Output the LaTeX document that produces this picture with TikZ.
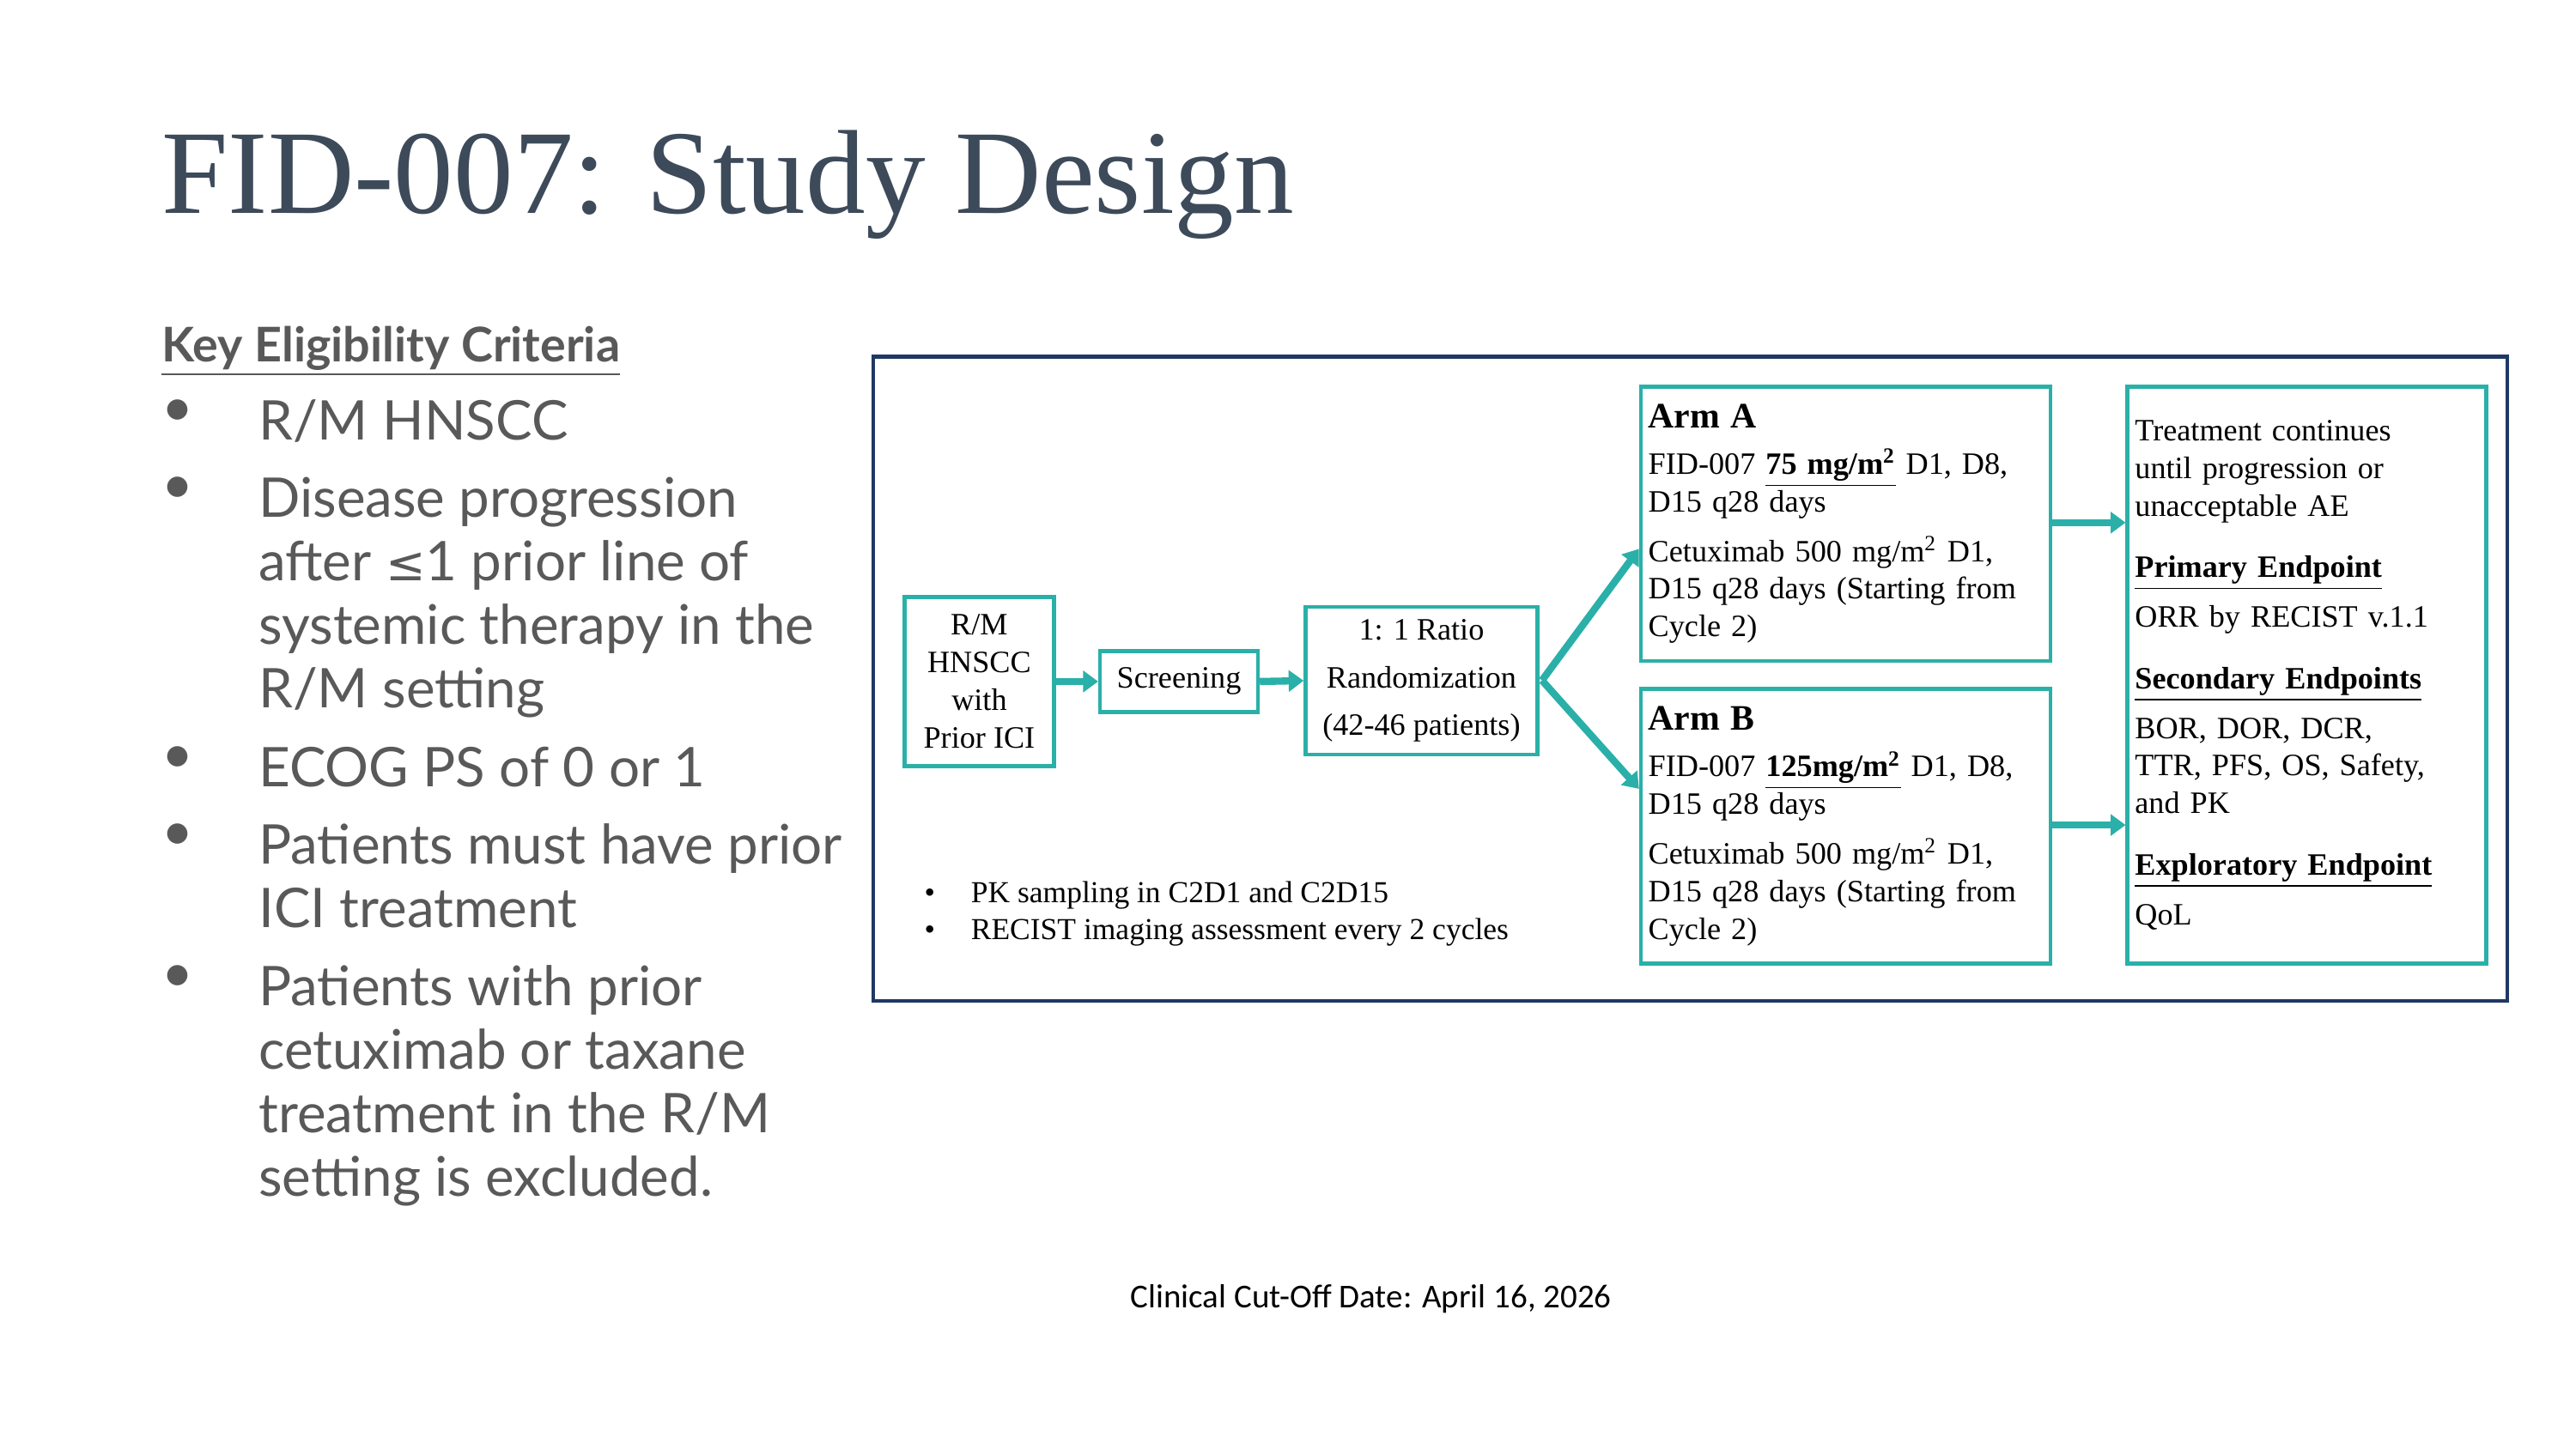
\documentclass[tikz,border=0pt]{standalone}
\usepackage{fontspec}
\setmainfont{Liberation Serif}
\newfontfamily\leftfont{Lato}
\newfontfamily\symfont{DejaVu Sans}
\newfontfamily\cutfont{Carlito}
\usetikzlibrary{positioning,arrows.meta}
\definecolor{teal}{HTML}{2AB0A8}
\definecolor{navy}{HTML}{1F3864}
\definecolor{slate}{HTML}{3D4A5A}
\definecolor{greytext}{HTML}{595959}
\tikzset{
  box/.style={draw=teal, line width=1.3pt, inner sep=2.5pt, font=\fontsize{10.4}{12.6}\selectfont},
  flow/.style={teal, line width=2.4pt, -{Triangle[length=5pt,width=7pt]}},
  crit/.style={anchor=north west, align=left, inner sep=0pt, text=greytext,
    font=\leftfont\fontsize{18.3}{21.3}\selectfont},
}
\begin{document}
\begin{tikzpicture}[x=0.01933cm, y=-0.01933cm]
	\useasboundingbox (0,0) rectangle (1567,881.5);
	% title and criteria
	\node[anchor=base west, inner sep=0pt, text=slate, font=\fontsize{40}{44}\selectfont] (title) at (98,130) {FID-007: Study Design};
	\node[anchor=base west, inner sep=0pt, text=greytext, font=\leftfont\bfseries\fontsize{16}{19}\selectfont] (keyhead) at (98,220) {\underline{Key Eligibility Criteria}};
	\foreach \y/\t [count=\i] in {243/{R/M HNSCC},
		290/{Disease progression\\after {\symfont\fontsize{16}{21.3}\selectfont≤}1 prior line of\\systemic therapy in the\\R/M setting},
		454/{ECOG PS of 0 or 1},
		501/{Patients must have prior\\ICI treatment},
		587/{Patients with prior\\cetuximab or taxane\\treatment in the R/M\\setting is excluded.}}{
		\node[crit] (dot\i) at (98,\y) {•};
		\node[crit] (crit\i) at (157,\y) {\t};
	}

	% study frame
	\draw[navy, line width=1.2pt] (531,217) rectangle (1525,609);
	\node[box, anchor=north west, minimum width=91*0.01933cm, minimum height=103*0.01933cm, align=center] (rm) at (549,362) {R/M\\HNSCC\\with\\Prior ICI};
	\node[box, anchor=north west, minimum width=96*0.01933cm, minimum height=37*0.01933cm] (scr) at (668,395) {Screening};
	\node[box, anchor=north west, minimum width=141*0.01933cm, minimum height=90*0.01933cm, align=center, font=\fontsize{10.4}{16}\selectfont] (rand) at (793,368) {1: 1 Ratio\\Randomization\\(42-46 patients)};
	\node[box, anchor=north west, minimum width=245*0.01933cm, minimum height=167*0.01933cm, text width=240*0.01933cm, align=left] (armA) at (997,234) {{\fontsize{12}{14}\selectfont\bfseries Arm A}\\[3pt]
		FID-007 \textbf{\underline{75 mg/m\textsuperscript{2}}} D1, D8,\\D15 q28 days\\[4pt]
		Cetuximab 500 mg/m\textsuperscript{2} D1,\\D15 q28 days (Starting from\\Cycle 2)};
	\node[box, anchor=north west, minimum width=245*0.01933cm, minimum height=167*0.01933cm, text width=240*0.01933cm, align=left] (armB) at (997,418) {{\fontsize{12}{14}\selectfont\bfseries Arm B}\\[3pt]
		FID-007 \textbf{\underline{125mg/m\textsuperscript{2}}} D1, D8,\\D15 q28 days\\[4pt]
		Cetuximab 500 mg/m\textsuperscript{2} D1,\\D15 q28 days (Starting from\\Cycle 2)};
	\node[box, anchor=north west, minimum width=214*0.01933cm, minimum height=351*0.01933cm, text width=209*0.01933cm, align=left] (endp) at (1293,234) {Treatment continues\\until progression or\\unacceptable AE\\[8pt]
		\textbf{\underline{Primary Endpoint}}\\[4pt]ORR by RECIST v.1.1\\[8pt]
		\textbf{\underline{Secondary Endpoints}}\\[4pt]BOR, DOR, DCR,\\TTR, PFS, OS, Safety,\\and PK\\[8pt]
		\textbf{\underline{Exploratory Endpoint}}\\[4pt]QoL\\[10pt]};
	\node[anchor=north west, align=left, inner sep=0pt, font=\fontsize{10.2}{12.4}\selectfont] (notes) at (562,536) {•\hspace{12pt}PK sampling in C2D1 and C2D15\\•\hspace{12pt}RECIST imaging assessment every 2 cycles};

	% arrows
	\coordinate (sp) at (938,414);
	\coordinate (ea) at (1248,318);
	\coordinate (eb) at (1248,502);
	\draw[flow] (rm.east) -- (scr.west);
	\draw[flow] (scr.east) -- (rand.west);
	\draw[flow] (sp) -- (armA.west |- 0,334);
	\draw[flow] (sp) -- (armB.west |- 0,480);
	\draw[flow] (ea) -- (endp.west |- ea);
	\draw[flow] (eb) -- (endp.west |- eb);

	\node[anchor=base, inner sep=0pt, font=\cutfont\fontsize{11.2}{13}\selectfont] (cutoff) at (834,796) {Clinical Cut-Off Date: April 16, 2026};
\end{tikzpicture}
\end{document}
